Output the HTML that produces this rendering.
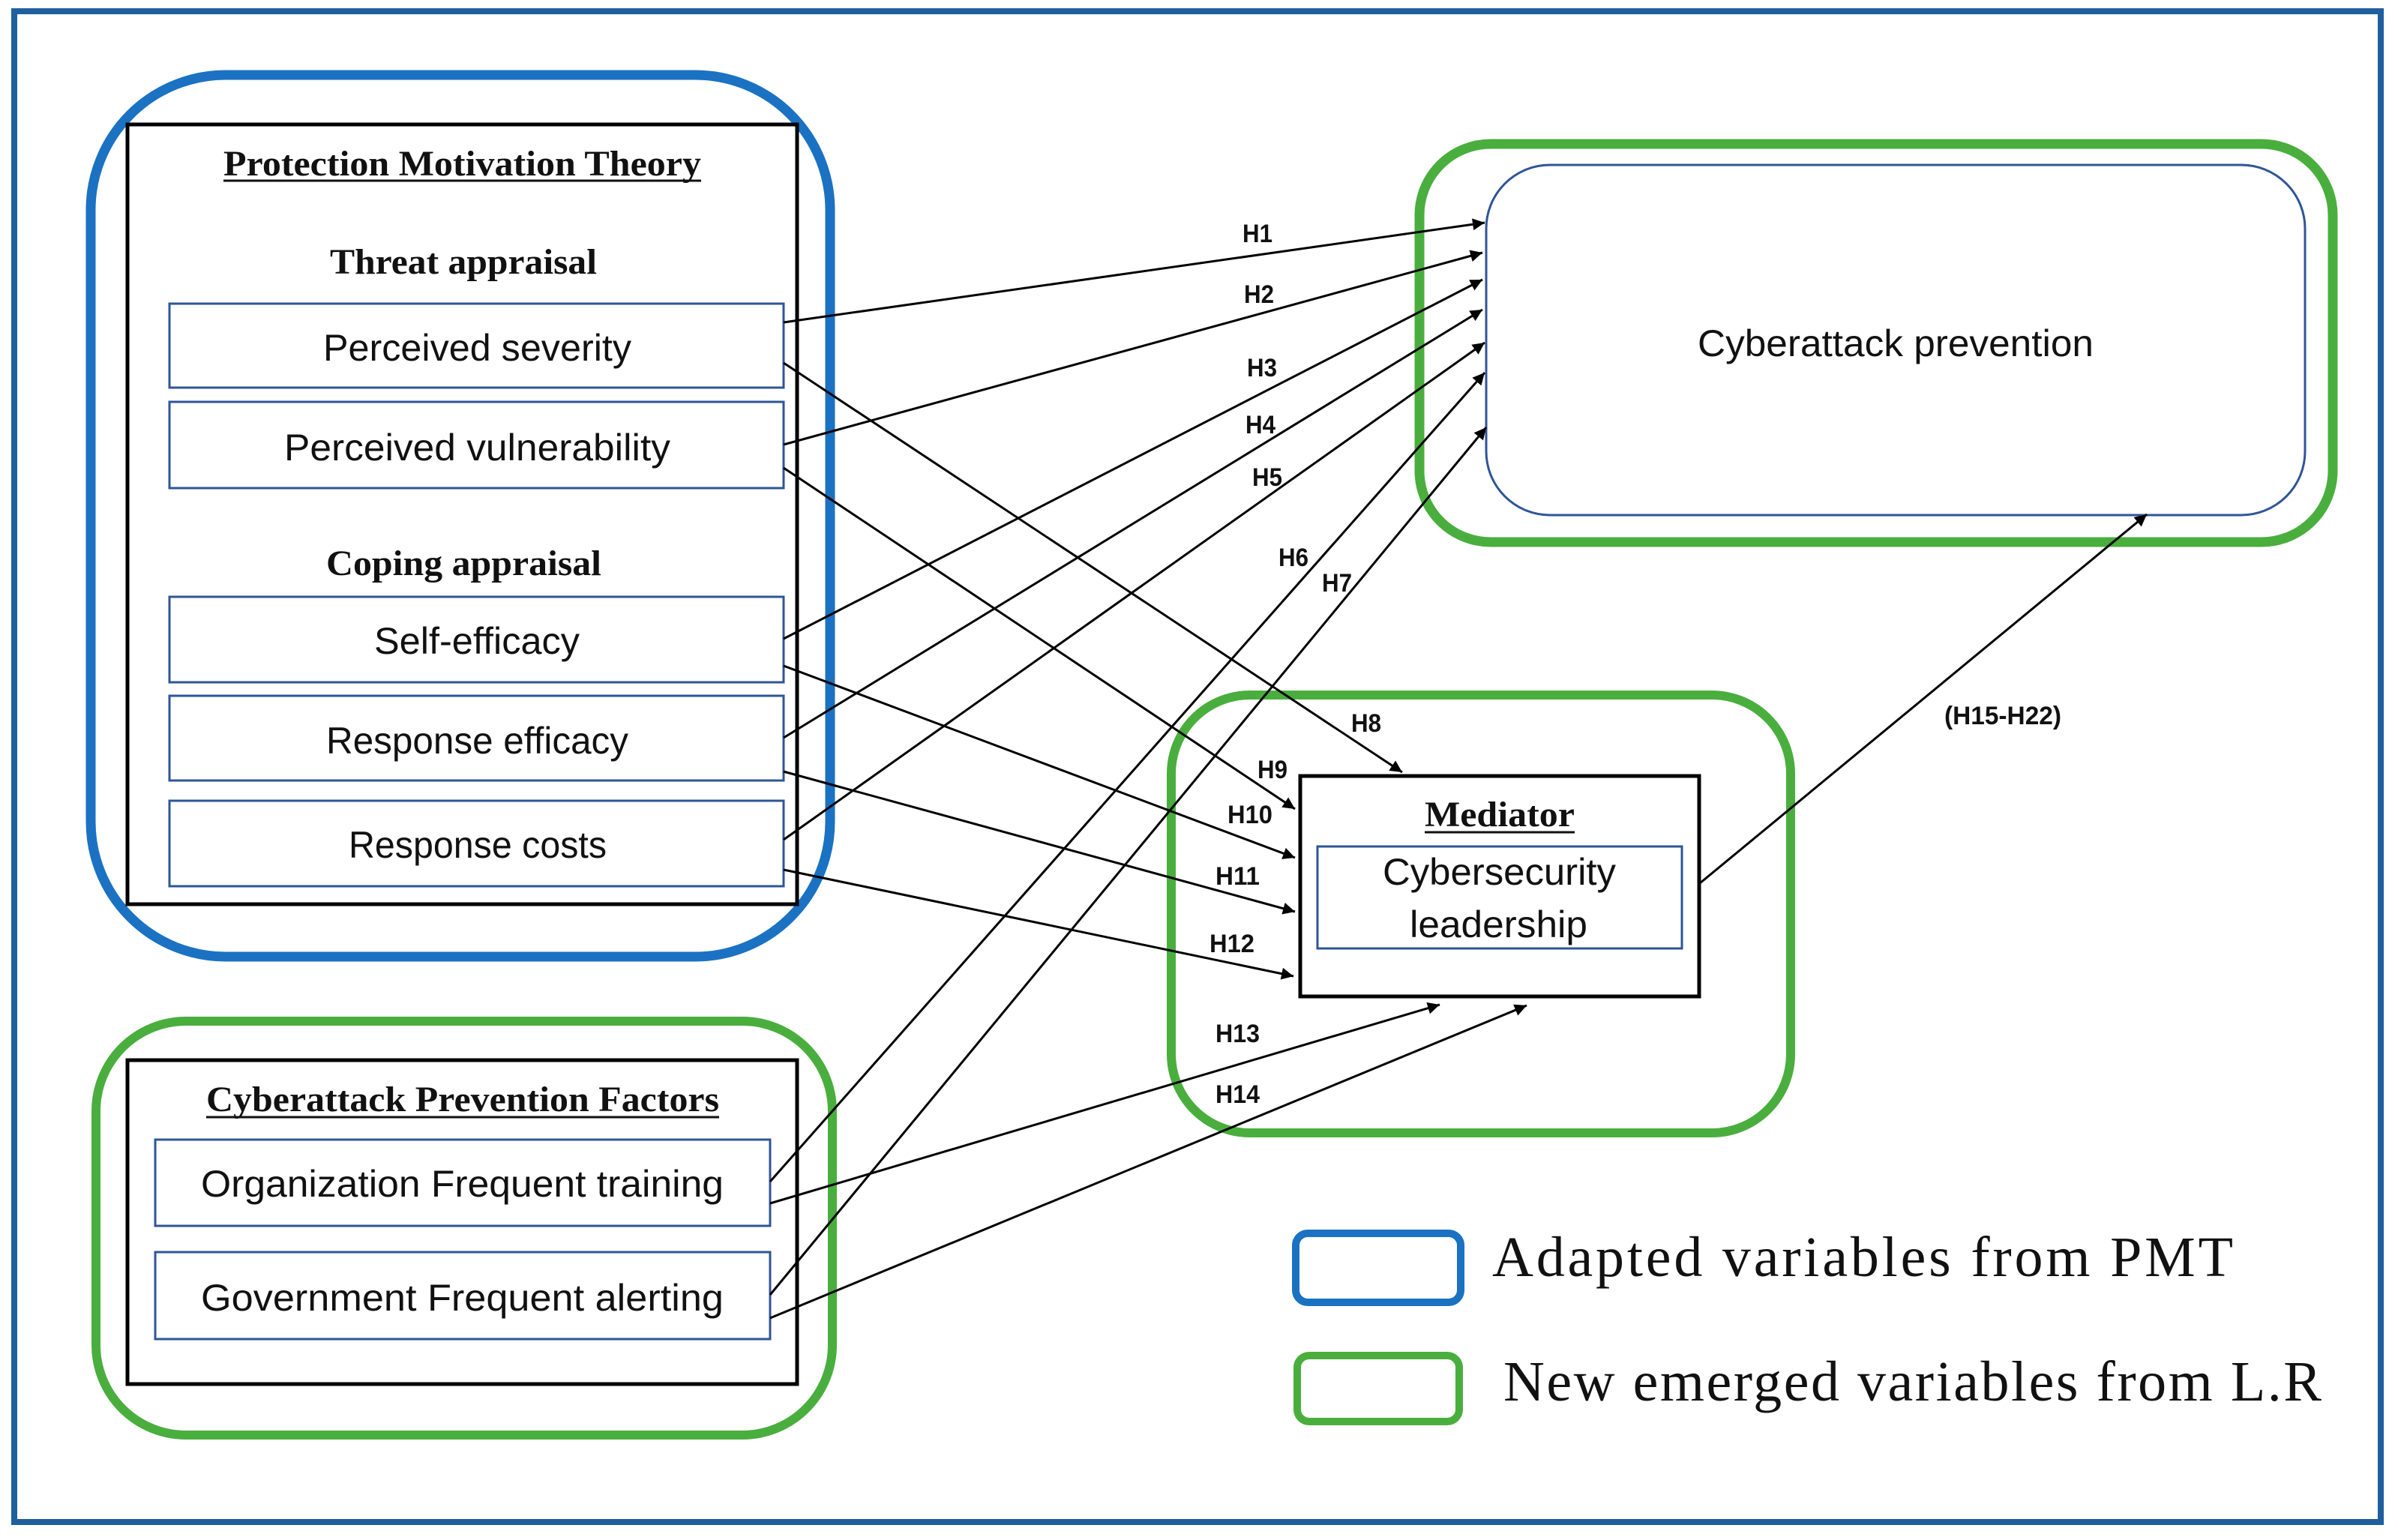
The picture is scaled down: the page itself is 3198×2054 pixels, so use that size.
<!DOCTYPE html>
<html><head><meta charset="utf-8"><style>
html,body{margin:0;padding:0;background:#fff;}
svg{display:block;}
</style></head><body>
<svg width="3198" height="2054" viewBox="0 0 3198 2054" xmlns="http://www.w3.org/2000/svg">
<defs>
<marker id="ah" viewBox="0 0 10 10" refX="10" refY="5" markerWidth="22" markerHeight="16" markerUnits="userSpaceOnUse" orient="auto">
<path d="M0,0 L10,5 L0,10 z" fill="#000"/>
</marker>
</defs>
<rect width="3198" height="2054" fill="#fff"/>
<rect x="19" y="15" width="3156" height="2015" fill="none" stroke="#1f5f9e" stroke-width="8"/>

<!-- PMT blue group -->
<rect x="121" y="100" width="986" height="1176" rx="180" fill="none" stroke="#1b72c2" stroke-width="13"/>
<rect x="170" y="166" width="893" height="1040" fill="none" stroke="#000" stroke-width="5"/>
<g font-family="Liberation Serif, serif" font-weight="bold" font-size="48" fill="#111">
<text x="298" y="234" textLength="637" lengthAdjust="spacingAndGlyphs">Protection Motivation Theory</text>
<text x="440" y="365" textLength="356" lengthAdjust="spacingAndGlyphs">Threat appraisal</text>
<text x="435" y="767" textLength="367" lengthAdjust="spacingAndGlyphs">Coping appraisal</text>
</g>
<line x1="298" y1="241" x2="935" y2="241" stroke="#111" stroke-width="3"/>
<g fill="#fff" stroke="#2f5597" stroke-width="3">
<rect x="226" y="405" width="819" height="112"/>
<rect x="226" y="536" width="819" height="115"/>
<rect x="226" y="796" width="819" height="114"/>
<rect x="226" y="928" width="819" height="113"/>
<rect x="226" y="1068" width="819" height="114"/>
</g>
<g font-family="Liberation Sans, sans-serif" font-size="50" fill="#111">
<text x="431" y="481" textLength="411" lengthAdjust="spacingAndGlyphs">Perceived severity</text>
<text x="379" y="614" textLength="515" lengthAdjust="spacingAndGlyphs">Perceived vulnerability</text>
<text x="499" y="872" textLength="274" lengthAdjust="spacingAndGlyphs">Self-efficacy</text>
<text x="435" y="1005" textLength="403" lengthAdjust="spacingAndGlyphs">Response efficacy</text>
<text x="465" y="1144" textLength="344" lengthAdjust="spacingAndGlyphs">Response costs</text>
</g>

<!-- CPF green group -->
<rect x="128" y="1362" width="982" height="552" rx="120" fill="none" stroke="#4aae3e" stroke-width="12"/>
<rect x="170" y="1414" width="893" height="432" fill="none" stroke="#000" stroke-width="5"/>
<text x="275" y="1482" textLength="684" lengthAdjust="spacingAndGlyphs" font-family="Liberation Serif, serif" font-weight="bold" font-size="48" fill="#111">Cyberattack Prevention Factors</text>
<line x1="275" y1="1490" x2="959" y2="1490" stroke="#111" stroke-width="3"/>
<g fill="#fff" stroke="#2f5597" stroke-width="3">
<rect x="207" y="1520" width="820" height="115"/>
<rect x="207" y="1670" width="820" height="116"/>
</g>
<g font-family="Liberation Sans, sans-serif" font-size="50" fill="#111">
<text x="268" y="1596" textLength="697" lengthAdjust="spacingAndGlyphs">Organization Frequent training</text>
<text x="268" y="1748" textLength="697" lengthAdjust="spacingAndGlyphs">Government Frequent alerting</text>
</g>

<!-- Cyberattack prevention -->
<rect x="1893" y="192" width="1218" height="531" rx="95" fill="none" stroke="#4aae3e" stroke-width="13"/>
<rect x="1982" y="220" width="1092" height="467" rx="85" fill="#fff" stroke="#2f5597" stroke-width="3"/>
<text x="2264" y="475" textLength="528" lengthAdjust="spacingAndGlyphs" font-family="Liberation Sans, sans-serif" font-size="50" fill="#111">Cyberattack prevention</text>

<!-- Mediator -->
<rect x="1562" y="927" width="826" height="584" rx="105" fill="none" stroke="#4aae3e" stroke-width="12"/>
<rect x="1734" y="1035" width="532" height="294" fill="#fff" stroke="#000" stroke-width="5"/>
<text x="1900" y="1102" textLength="200" lengthAdjust="spacingAndGlyphs" font-family="Liberation Serif, serif" font-weight="bold" font-size="48" fill="#111">Mediator</text>
<line x1="1900" y1="1110" x2="2100" y2="1110" stroke="#111" stroke-width="3"/>
<rect x="1757" y="1129" width="486" height="136" fill="#fff" stroke="#2f5597" stroke-width="3"/>
<g font-family="Liberation Sans, sans-serif" font-size="50" fill="#111">
<text x="1844" y="1180" textLength="311" lengthAdjust="spacingAndGlyphs">Cybersecurity</text>
<text x="1880" y="1250" textLength="237" lengthAdjust="spacingAndGlyphs">leadership</text>
</g>

<!-- arrows -->
<g stroke="#000" stroke-width="3" marker-end="url(#ah)" fill="none">
<line x1="1045" y1="430" x2="1980" y2="297"/>
<line x1="1045" y1="593" x2="1977" y2="337"/>
<line x1="1045" y1="852" x2="1977" y2="373"/>
<line x1="1045" y1="984" x2="1977" y2="413"/>
<line x1="1045" y1="1120" x2="1980" y2="457"/>
<line x1="1027" y1="1576" x2="1980" y2="497"/>
<line x1="1027" y1="1727" x2="1982" y2="570"/>
<line x1="1045" y1="484" x2="1870" y2="1030"/>
<line x1="1045" y1="624" x2="1727" y2="1079"/>
<line x1="1045" y1="888" x2="1727" y2="1144"/>
<line x1="1045" y1="1029" x2="1727" y2="1216"/>
<line x1="1045" y1="1160" x2="1725" y2="1302"/>
<line x1="1027" y1="1605" x2="1920" y2="1340"/>
<line x1="1027" y1="1758" x2="2036" y2="1341"/>
<line x1="2267" y1="1178" x2="2863" y2="686"/>
</g>

<!-- H labels -->
<g font-family="Liberation Sans, sans-serif" font-weight="bold" font-size="34" fill="#111">
<text x="1657" y="323" textLength="40" lengthAdjust="spacingAndGlyphs">H1</text>
<text x="1659" y="404" textLength="40" lengthAdjust="spacingAndGlyphs">H2</text>
<text x="1663" y="502" textLength="40" lengthAdjust="spacingAndGlyphs">H3</text>
<text x="1661" y="578" textLength="40" lengthAdjust="spacingAndGlyphs">H4</text>
<text x="1670" y="648" textLength="40" lengthAdjust="spacingAndGlyphs">H5</text>
<text x="1705" y="755" textLength="40" lengthAdjust="spacingAndGlyphs">H6</text>
<text x="1763" y="789" textLength="40" lengthAdjust="spacingAndGlyphs">H7</text>
<text x="1802" y="976" textLength="40" lengthAdjust="spacingAndGlyphs">H8</text>
<text x="1677" y="1038" textLength="40" lengthAdjust="spacingAndGlyphs">H9</text>
<text x="1637" y="1098" textLength="60" lengthAdjust="spacingAndGlyphs">H10</text>
<text x="1621" y="1180" textLength="59" lengthAdjust="spacingAndGlyphs">H11</text>
<text x="1613" y="1270" textLength="60" lengthAdjust="spacingAndGlyphs">H12</text>
<text x="1621" y="1390" textLength="59" lengthAdjust="spacingAndGlyphs">H13</text>
<text x="1621" y="1471" textLength="59" lengthAdjust="spacingAndGlyphs">H14</text>
<text x="2593" y="966" textLength="156" lengthAdjust="spacingAndGlyphs">(H15-H22)</text>
</g>

<!-- legend -->
<rect x="1728" y="1645" width="220" height="92" rx="16" fill="none" stroke="#1b72c2" stroke-width="10"/>
<rect x="1730" y="1808" width="216" height="88" rx="16" fill="none" stroke="#4aae3e" stroke-width="10"/>
<g font-family="Liberation Serif, serif" font-size="76" fill="#111">
<text x="1990" y="1702" textLength="988" lengthAdjust="spacing">Adapted variables from PMT</text>
<text x="2005" y="1868" textLength="1091" lengthAdjust="spacing">New emerged variables from L.R</text>
</g>
</svg>
</body></html>
